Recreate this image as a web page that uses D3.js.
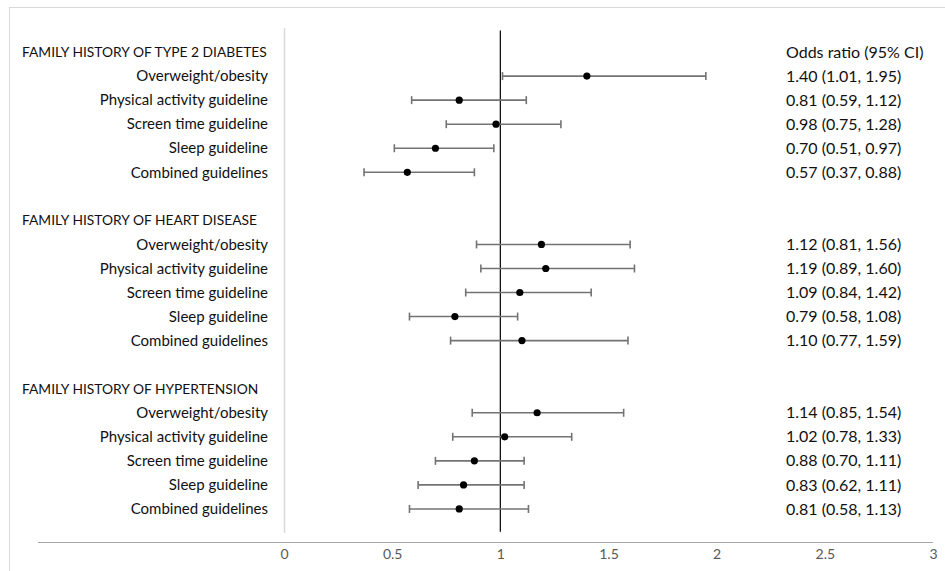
<!DOCTYPE html>
<html>
<head>
<meta charset="utf-8">
<title>Forest plot</title>
<script src="https://d3js.org/d3.v7.min.js"></script>
<style>
  body { margin: 0; background: #fff; }
  text { font-family: Lato, "Open Sans", sans-serif; }
</style>
</head>
<body>
<div id="chart"></div>
<script>
// groups and outcomes, top to bottom
var groups = ["FAMILY HISTORY OF TYPE 2 DIABETES", "FAMILY HISTORY OF HEART DISEASE", "FAMILY HISTORY OF HYPERTENSION"]
var outcomes = ["Overweight/obesity", "Physical activity guideline", "Screen time guideline", "Sleep guideline", "Combined guidelines"]
// plotted odds ratios and CI
var orValues = [1.40, 0.81, 0.98, 0.70, 0.57, 1.19, 1.21, 1.09, 0.79, 1.10, 1.17, 1.02, 0.88, 0.83, 0.81]
var ciLow = [1.01, 0.59, 0.75, 0.51, 0.37, 0.89, 0.91, 0.84, 0.58, 0.77, 0.87, 0.78, 0.70, 0.62, 0.58]
var ciHigh = [1.95, 1.12, 1.28, 0.97, 0.88, 1.60, 1.62, 1.42, 1.08, 1.59, 1.57, 1.33, 1.11, 1.11, 1.13]
// printed text column
var ciLabels = ["1.40 (1.01, 1.95)", "0.81 (0.59, 1.12)", "0.98 (0.75, 1.28)", "0.70 (0.51, 0.97)", "0.57 (0.37, 0.88)",
    "1.12 (0.81, 1.56)", "1.19 (0.89, 1.60)", "1.09 (0.84, 1.42)", "0.79 (0.58, 1.08)", "1.10 (0.77, 1.59)",
    "1.14 (0.85, 1.54)", "1.02 (0.78, 1.33)", "0.88 (0.70, 1.11)", "0.83 (0.62, 1.11)", "0.81 (0.58, 1.13)"]
var colTitle = "Odds ratio (95% CI)"
var xTicks = [0, 0.5, 1, 1.5, 2, 2.5, 3]

var width = 945, height = 571

var svg = d3.select("#chart").append("svg")
    .attr("width", width)
    .attr("height", height)

// light border of the chart area
svg.append("rect")
    .attr("x", 9.5).attr("y", 7.5)
    .attr("width", 1000).attr("height", 600)
    .style("fill", "none").style("stroke", "#d9d9d9")

var x = d3.scaleLinear().domain([0, 3]).range([284, 933])
var y = d3.scaleLinear().domain([0, 21]).range([533, 28])

// rows: header slot then 5 outcome slots, one blank slot between groups
var rows = []
groups.forEach(function(g, gi) {
    rows.push({type: "head", label: g, slot: 20 - gi * 7})
    outcomes.forEach(function(o, oi) {
        var k = gi * 5 + oi
        rows.push({type: "item", label: o, slot: 20 - gi * 7 - 1 - oi,
            or: orValues[k], lo: ciLow[k], hi: ciHigh[k], txt: ciLabels[k]})
    })
})
var items = rows.filter(function(d) { return d.type == "item" })

// vertical axis at 0
svg.append("line")
    .attr("x1", x(0) + 0.5).attr("x2", x(0) + 0.5)
    .attr("y1", y(21)).attr("y2", y(0))
    .style("stroke", "#d9d9d9").style("stroke-width", 1.5)

// x axis
var ax = svg.append("g")
    .attr("transform", "translate(0,542.5)")
    .call(d3.axisBottom(x).tickValues(xTicks).tickSize(0).tickPadding(7).tickFormat(d3.format("")))
ax.select(".domain").remove()
ax.selectAll("text").style("font-size", "14px").style("fill", "#595959")
    .style("font-family", "Lato, sans-serif")
ax.append("line")
    .attr("x1", 38).attr("x2", x(3))
    .style("stroke", "#a6a6a6").style("stroke-width", 1.2)

// reference line at OR = 1
svg.append("line")
    .attr("x1", x(1)).attr("x2", x(1))
    .attr("y1", y(20.9)).attr("y2", y(0.05))
    .style("stroke", "#000").style("stroke-width", 1.2)

// error bars
var bars = svg.append("g").style("stroke", "#737373").style("stroke-width", 1.6)
bars.selectAll(".ci").data(items).enter().append("line")
    .attr("x1", function(d) { return x(d.lo) })
    .attr("x2", function(d) { return x(d.hi) })
    .attr("y1", function(d) { return y(d.slot) })
    .attr("y2", function(d) { return y(d.slot) })
bars.selectAll(".capl").data(items).enter().append("line")
    .attr("x1", function(d) { return x(d.lo) })
    .attr("x2", function(d) { return x(d.lo) })
    .attr("y1", function(d) { return y(d.slot) - 4 })
    .attr("y2", function(d) { return y(d.slot) + 4 })
bars.selectAll(".caph").data(items).enter().append("line")
    .attr("x1", function(d) { return x(d.hi) })
    .attr("x2", function(d) { return x(d.hi) })
    .attr("y1", function(d) { return y(d.slot) - 4 })
    .attr("y2", function(d) { return y(d.slot) + 4 })

// points
svg.selectAll(".pt").data(items).enter().append("circle")
    .attr("cx", function(d) { return x(d.or) })
    .attr("cy", function(d) { return y(d.slot) })
    .attr("r", 3.6)
    .style("fill", "#000")

// left labels
svg.selectAll(".lab").data(rows).enter().append("text")
    .attr("x", function(d) { return d.type == "head" ? 22 : 268 })
    .attr("y", function(d) { return y(d.slot) })
    .attr("dy", "0.35em")
    .attr("text-anchor", function(d) { return d.type == "head" ? "start" : "end" })
    .style("font-size", function(d) { return d.type == "head" ? "13.8px" : "15px" })
    .style("fill", "#111")
    .text(function(d) { return d.label })

// right column
svg.append("text")
    .attr("x", 786).attr("y", y(20)).attr("dy", "0.35em")
    .style("font-size", "16px").style("fill", "#111")
    .text(colTitle)
svg.selectAll(".ci-txt").data(items).enter().append("text")
    .attr("x", 786)
    .attr("y", function(d) { return y(d.slot) })
    .attr("dy", "0.35em")
    .style("font-size", "16px")
    .style("fill", "#111")
    .text(function(d) { return d.txt })
</script>
</body>
</html>
